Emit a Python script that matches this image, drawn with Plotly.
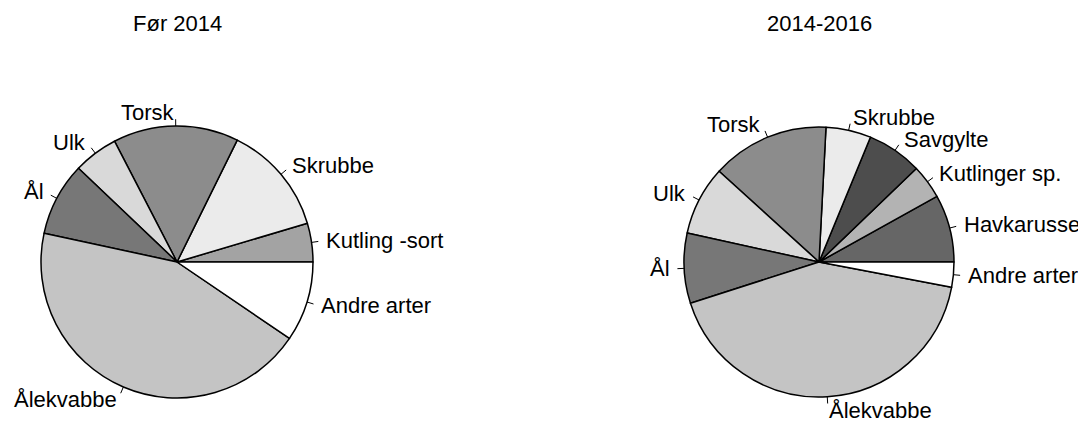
import numpy as np
import plotly.graph_objects as go

W, H = 1086, 423
OFF = 8  # page body margin of the written html

titles = ["Før 2014", "2014-2016"]

labels_1 = ["Kutling -sort", "Skrubbe", "Torsk", "Ulk", "Ål", "Ålekvabbe", "Andre arter"]
values_1 = [4.6, 13.1, 14.9, 5.3, 8.7, 43.9, 9.5]
colors_1 = ["#a3a3a3", "#ebebeb", "#8c8c8c", "#d9d9d9", "#777777", "#c4c4c4", "#ffffff"]

labels_2 = ["Havkarusse", "Kutlinger sp.", "Savgylte", "Skrubbe", "Torsk", "Ulk", "Ål",
            "Ålekvabbe", "Andre arter"]
values_2 = [8.1, 4.1, 6.6, 5.4, 14.1, 8.3, 8.4, 42.1, 3.0]
colors_2 = ["#666666", "#b3b3b3", "#4d4d4d", "#ebebeb", "#8c8c8c", "#d9d9d9", "#777777",
            "#c4c4c4", "#ffffff"]

FONT = "Liberation Sans, Arial, sans-serif"
FS = 22

# pie geometry in window pixels (center x, center y from top, radius)
pies = [
    dict(labels=labels_1, values=values_1, colors=colors_1, cx=177, cy=262, r=136, title=titles[0]),
    dict(labels=labels_2, values=values_2, colors=colors_2, cx=819, cy=262, r=135, title=titles[1]),
]

fig = go.Figure()
shapes = []
annotations = []


def px(x):
    return (x - OFF) / W


def py(y):
    return 1 - (y - OFF) / H


for p in pies:
    cx, cy, r = p["cx"], p["cy"], p["r"]
    vals = np.array(p["values"], dtype=float)
    frac = vals / vals.sum()
    cum = np.concatenate([[0], np.cumsum(frac)])
    fig.add_trace(go.Pie(
        labels=p["labels"], values=p["values"],
        marker=dict(colors=p["colors"], line=dict(color="black", width=1.5)),
        sort=False, direction="counterclockwise", rotation=90 - 360 * frac[0],
        textinfo="none", hoverinfo="label+percent", showlegend=False,
        domain=dict(x=[px(cx - r), px(cx + r)], y=[py(cy + r), py(cy - r)]),
    ))
    for i, lab in enumerate(p["labels"]):
        mid = 2 * np.pi * (cum[i] + cum[i + 1]) / 2
        c, s = np.cos(mid), np.sin(mid)
        shapes.append(dict(type="line", xref="paper", yref="paper",
                           x0=px(cx + r * c), y0=py(cy - r * s),
                           x1=px(cx + 1.05 * r * c), y1=py(cy - 1.05 * r * s),
                           line=dict(color="black", width=1)))
        annotations.append(dict(
            text=lab, xref="paper", yref="paper", showarrow=False,
            x=px(cx + 1.1 * r * c), y=py(cy - 1.1 * r * s),
            xanchor="left" if c > 0 else "right", yanchor="middle",
            font=dict(family=FONT, size=FS, color="black"), borderpad=0,
        ))
    annotations.append(dict(
        text=p["title"], xref="paper", yref="paper", showarrow=False,
        x=px(cx), y=py(23), xanchor="center", yanchor="middle",
        font=dict(family=FONT, size=FS, color="black"),
    ))

fig.update_layout(
    width=W, height=H, margin=dict(l=0, r=0, t=0, b=0),
    paper_bgcolor="white", plot_bgcolor="white",
    shapes=shapes, annotations=annotations,
)

fig.write_html("out.html")
